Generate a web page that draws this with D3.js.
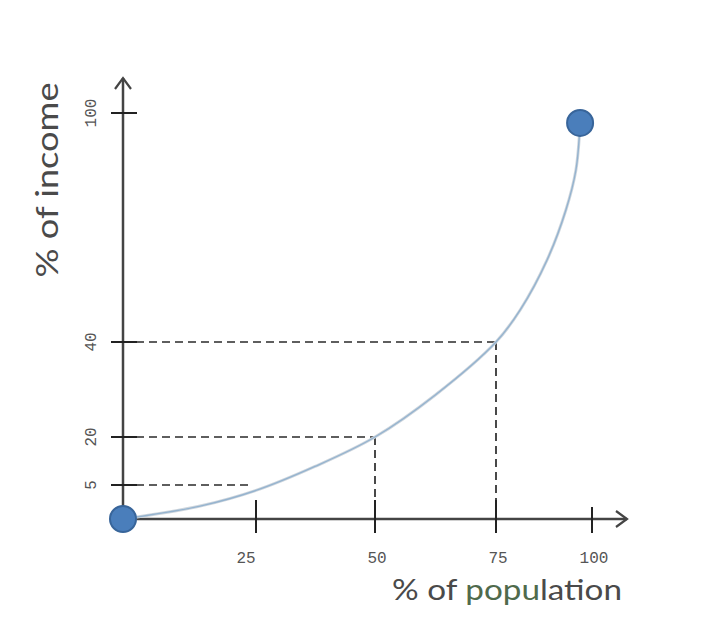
<!DOCTYPE html>
<html lang="en">
<head>
<meta charset="UTF-8">
<title>Lorenz curve</title>
<script src="https://d3js.org/d3.v7.min.js"></script>
<style>
  body { margin: 0; background: #fff; }
</style>
</head>
<body>
<script>
  // tick values on each axis (the picture is hand drawn, so spacing is not even)
  var xTicks = [25, 50, 75, 100];
  var yTicks = [5, 20, 40, 100];

  // Lorenz curve (% population, % income)
  var curvePop    = [0, 14.5, 25, 37.4, 50, 62.4, 75, 81.3, 88.3, 93.2, 95.8, 96.9];
  var curveIncome = [0, 1.9, 4.2, 10.8, 20, 28.8, 40, 48.4, 61.5, 74.6, 85, 97.4];

  // marked points with dashed guides
  var guidePop    = [24, 50, 75];
  var guideIncome = [5, 20, 40];
  var guideDown   = [false, true, true];

  var width = 709, height = 640;

  var svg = d3.select('body')
    .append('svg')
    .attr('width', width)
    .attr('height', height);

  // piecewise scales so the uneven hand-drawn ticks land where they are in the picture
  var x = d3.scaleLinear()
    .domain([0, 25, 50, 75, 100])
    .range([123, 256, 375, 496, 592]);

  var y = d3.scaleLinear()
    .domain([0, 5, 20, 40, 100])
    .range([519, 485, 437, 342, 113]);

  var axisColor = '#444';

  // dashed guides
  var guides = d3.range(guidePop.length).map(function (i) {
    return { p: guidePop[i], v: guideIncome[i], down: guideDown[i] };
  });

  svg.selectAll('.hguide')
    .data(guides)
    .enter()
    .append('line')
      .attr('class', 'hguide')
      .attr('x1', x(0))
      .attr('x2', (d) => x(d.p))
      .attr('y1', (d) => y(d.v))
      .attr('y2', (d) => y(d.v))
      .attr('stroke', '#2a2a2a')
      .attr('stroke-width', 1.7)
      .attr('stroke-dasharray', '8,5');

  svg.selectAll('.vguide')
    .data(guides.filter((d) => d.down))
    .enter()
    .append('line')
      .attr('class', 'vguide')
      .attr('x1', (d) => x(d.p))
      .attr('x2', (d) => x(d.p))
      .attr('y1', (d) => y(d.v))
      .attr('y2', y(0))
      .attr('stroke', '#2a2a2a')
      .attr('stroke-width', 1.7)
      .attr('stroke-dasharray', '8,5');

  // axes lines
  var xEnd = 627, yEnd = 78;
  svg.append('line')
    .attr('x1', x(0)).attr('x2', xEnd)
    .attr('y1', y(0)).attr('y2', y(0))
    .attr('stroke', axisColor).attr('stroke-width', 2.5);
  svg.append('line')
    .attr('x1', x(0)).attr('x2', x(0))
    .attr('y1', y(0)).attr('y2', yEnd)
    .attr('stroke', axisColor).attr('stroke-width', 2.5);

  // arrow heads (open chevrons)
  svg.append('path')
    .attr('d', 'M' + (xEnd - 11) + ',' + (y(0) - 8) + 'L' + xEnd + ',' + y(0) + 'L' + (xEnd - 11) + ',' + (y(0) + 8))
    .attr('fill', 'none').attr('stroke', axisColor).attr('stroke-width', 2.2);
  svg.append('path')
    .attr('d', 'M' + (x(0) - 8) + ',' + (yEnd + 11) + 'L' + x(0) + ',' + yEnd + 'L' + (x(0) + 8) + ',' + (yEnd + 11))
    .attr('fill', 'none').attr('stroke', axisColor).attr('stroke-width', 2.2);

  // ticks
  svg.selectAll('.xtick')
    .data(xTicks)
    .enter()
    .append('line')
      .attr('class', 'xtick')
      .attr('x1', (d) => x(d)).attr('x2', (d) => x(d))
      .attr('y1', (d) => y(0) - (d === 100 ? 12 : 19))
      .attr('y2', y(0) + 14)
      .attr('stroke', '#222').attr('stroke-width', 2);

  svg.selectAll('.ytick')
    .data(yTicks)
    .enter()
    .append('line')
      .attr('class', 'ytick')
      .attr('x1', x(0) - 12).attr('x2', x(0) + 14)
      .attr('y1', (d) => y(d)).attr('y2', (d) => y(d))
      .attr('stroke', '#222').attr('stroke-width', 2);

  // tick labels
  svg.selectAll('.xlabel')
    .data(xTicks)
    .enter()
    .append('text')
      .attr('class', 'xlabel')
      .attr('x', (d) => x(d) - (d === 25 ? 10 : -2))
      .attr('y', 563)
      .attr('text-anchor', 'middle')
      .style('font-family', '"Liberation Mono", monospace')
      .style('font-size', '16px')
      .style('fill', '#555')
      .text((d) => d);

  svg.selectAll('.ylabel')
    .data(yTicks)
    .enter()
    .append('text')
      .attr('class', 'ylabel')
      .attr('transform', (d) => 'translate(96,' + y(d) + ') rotate(-90)')
      .attr('text-anchor', 'middle')
      .style('font-family', '"Liberation Mono", monospace')
      .style('font-size', '16px')
      .style('fill', '#555')
      .text((d) => d);

  // curve
  var pts = d3.range(curvePop.length).map(function (i) {
    return [x(curvePop[i]), y(curveIncome[i])];
  });

  var line = d3.line().curve(d3.curveCatmullRom.alpha(0.5));

  svg.append('path')
    .attr('d', line(pts))
    .attr('fill', 'none')
    .attr('stroke', '#cfd6dd')
    .attr('stroke-width', 3);
  svg.append('path')
    .attr('d', line(pts))
    .attr('fill', 'none')
    .attr('stroke', '#94b3cf')
    .attr('stroke-width', 1.4);

  // end points
  var ends = [[curvePop[0], curveIncome[0]], [curvePop[curvePop.length - 1], curveIncome[curveIncome.length - 1]]];
  svg.selectAll('.dot')
    .data(ends)
    .enter()
    .append('circle')
      .attr('class', 'dot')
      .attr('cx', (d) => x(d[0]))
      .attr('cy', (d) => y(d[1]))
      .attr('r', 13)
      .attr('fill', '#4a7ebb')
      .attr('stroke', '#38659a')
      .attr('stroke-width', 2);

  // axis titles
  var xt = svg.append('text')
    .attr('x', 392)
    .attr('y', 600)
    .attr('textLength', 230)
    .attr('lengthAdjust', 'spacingAndGlyphs')
    .style('font-family', 'Lato, sans-serif')
    .style('font-size', '28px')
    .style('fill', '#4a4a4a');
  xt.append('tspan').text('% of ');
  xt.append('tspan').style('fill', '#4f6a4c').text('popu');
  xt.append('tspan').text('lation');

  svg.append('text')
    .attr('transform', 'translate(58,180) rotate(-90)')
    .attr('text-anchor', 'middle')
    .attr('textLength', 195)
    .attr('lengthAdjust', 'spacingAndGlyphs')
    .style('font-family', 'Lato, sans-serif')
    .style('font-size', '30px')
    .style('fill', '#4a4a4a')
    .text('% of income');
</script>
</body>
</html>
